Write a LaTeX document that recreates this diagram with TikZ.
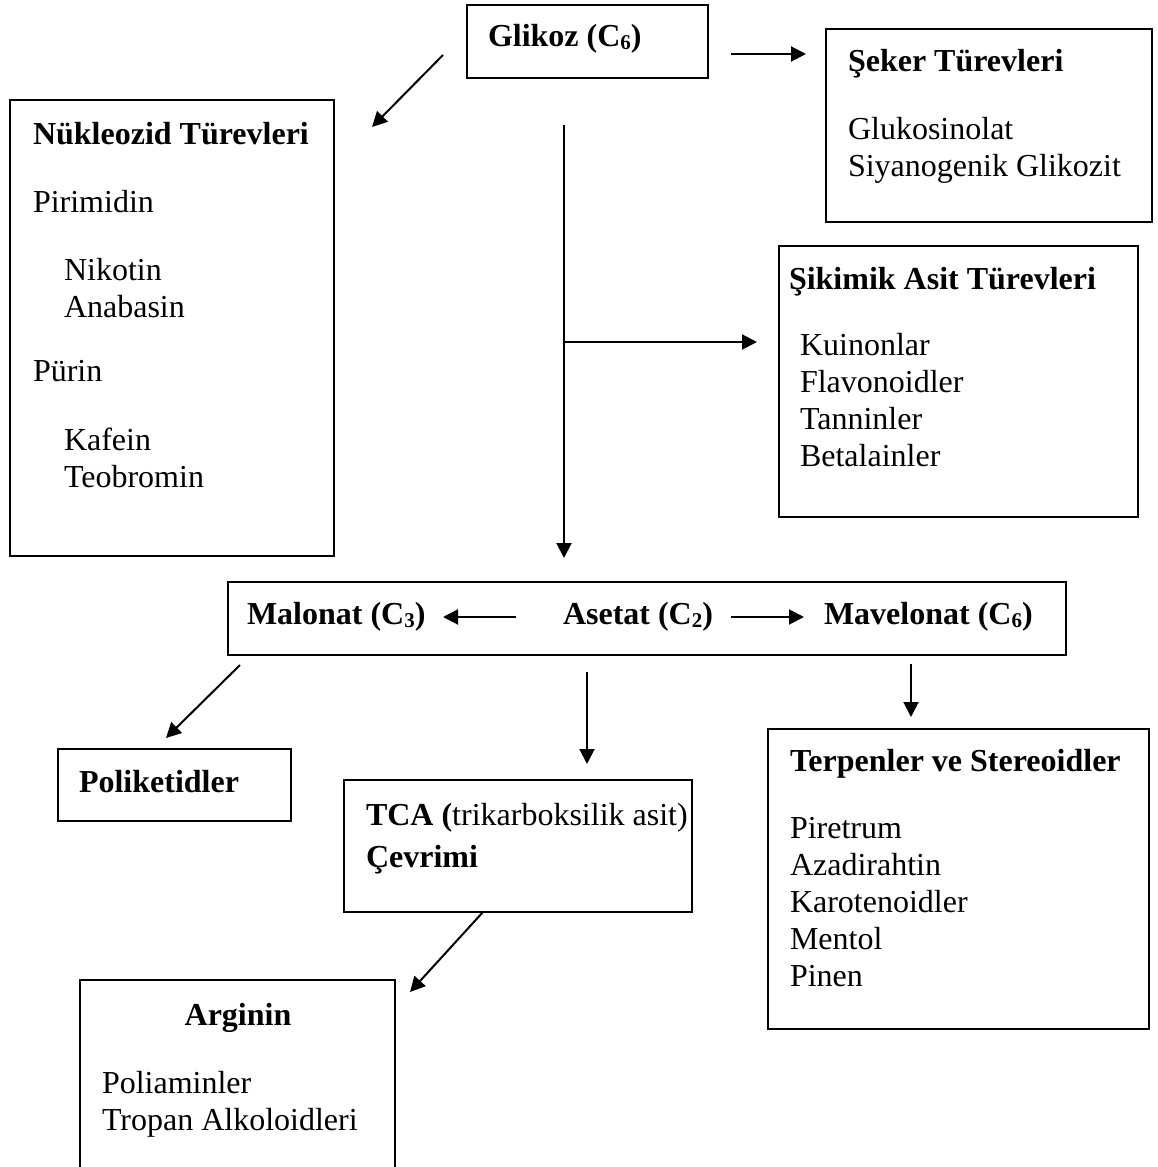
\documentclass[tikz,border=0pt]{standalone}
\usepackage{fontspec}
\setmainfont{Liberation Serif}
\usetikzlibrary{arrows.meta}
\newcommand{\subn}[1]{\raisebox{-3.5pt}{\fontsize{21}{21}\selectfont #1}}
\begin{document}
\begin{tikzpicture}[x=1pt,y=-1pt,
  box/.style={draw,line width=1.8pt,inner sep=0pt,outer sep=0pt,anchor=north west},
  txt/.style={inner sep=0pt,outer sep=0pt,anchor=base west,font=\fontsize{32}{37}\selectfont},
  hd/.style={txt,font=\fontsize{32}{37}\selectfont\bfseries},
  arr/.style={line width=2pt,-{Triangle[length=15pt,width=15pt]}}]
\useasboundingbox (0,0) rectangle (1157,1167);
% boxes
\node[box,minimum width=241pt,minimum height=73pt] (bglik) at (467,5) {};
\node[box,minimum width=326pt,minimum height=193pt] (bseker) at (826,29) {};
\node[box,minimum width=324pt,minimum height=456pt] (bnuk) at (10,100) {};
\node[box,minimum width=359pt,minimum height=271pt] (bsik) at (779,246) {};
\node[box,minimum width=838pt,minimum height=73pt] (basetat) at (228,582) {};
\node[box,minimum width=233pt,minimum height=72pt] (bpol) at (58,749) {};
\node[box,minimum width=348pt,minimum height=132pt] (btca) at (344,780) {};
\node[box,minimum width=381pt,minimum height=300pt] (bterp) at (768,729) {};
\node[box,minimum width=315pt,minimum height=220pt] (barg) at (80,980) {};
% texts
\node[hd] (tglik) at (488,46) {Glikoz (C\subn{6})};
\node[hd] (tseker) at (848,71) {Şeker Türevleri};
\node[txt] (t1) at (848,139) {Glukosinolat};
\node[txt] (t2) at (848,176) {Siyanogenik Glikozit};
\node[hd] (tnuk) at (33,144) {Nükleozid Türevleri};
\node[txt] (t3) at (33,212) {Pirimidin};
\node[txt] (t4) at (64,280) {Nikotin};
\node[txt] (t5) at (64,317) {Anabasin};
\node[txt] (t6) at (33,381) {Pürin};
\node[txt] (t7) at (64,450) {Kafein};
\node[txt] (t8) at (64,487) {Teobromin};
\node[hd] (tsik) at (789,289) {Şikimik Asit Türevleri};
\node[txt] (t9) at (800,355) {Kuinonlar};
\node[txt] (t10) at (800,392) {Flavonoidler};
\node[txt] (t11) at (800,429) {Tanninler};
\node[txt] (t12) at (800,466) {Betalainler};
\node[hd] (tmal) at (247,624) {Malonat (C\subn{3})};
\node[hd] (tase) at (563,624) {Asetat (C\subn{2})};
\node[hd] (tmav) at (824,624) {Mavelonat (C\subn{6})};
\node[hd] (tpol) at (79,792) {Poliketidler};
\node[txt] (ttca) at (366,825) {\textbf{TCA (}trikarboksilik asit)};
\node[hd] (tcev) at (366,867) {Çevrimi};
\node[hd] (tterp) at (790,771) {Terpenler ve Stereoidler};
\node[txt] (t13) at (790,838) {Piretrum};
\node[txt] (t14) at (790,875) {Azadirahtin};
\node[txt] (t15) at (790,912) {Karotenoidler};
\node[txt] (t16) at (790,949) {Mentol};
\node[txt] (t17) at (790,986) {Pinen};
\node[hd,anchor=base] (targ) at (238,1025) {Arginin};
\node[txt] (t18) at (102,1093) {Poliaminler};
\node[txt] (t19) at (102,1130) {Tropan Alkoloidleri};
% arrow endpoints
\coordinate (a1s) at (443,55); \coordinate (a1e) at (372,127);
\coordinate (a2s) at (731,54); \coordinate (a2e) at (806,54);
\coordinate (a3s) at (564,125); \coordinate (a3e) at (564,558);
\coordinate (a4s) at (564,342); \coordinate (a4e) at (757,342);
\coordinate (a5s) at (516,617); \coordinate (a5e) at (443,617);
\coordinate (a6s) at (731,617); \coordinate (a6e) at (804,617);
\coordinate (a7s) at (240,665); \coordinate (a7e) at (166,738);
\coordinate (a8s) at (587,672); \coordinate (a8e) at (587,764);
\coordinate (a9s) at (911,664); \coordinate (a9e) at (911,717);
\coordinate (a10s) at (483,912); \coordinate (a10e) at (410,992);
\draw[arr] (a1s) -- (a1e);
\draw[arr] (a2s) -- (a2e);
\draw[arr] (a3s) -- (a3e);
\draw[arr] (a4s) -- (a4e);
\draw[arr] (a5s) -- (a5e);
\draw[arr] (a6s) -- (a6e);
\draw[arr] (a7s) -- (a7e);
\draw[arr] (a8s) -- (a8e);
\draw[arr] (a9s) -- (a9e);
\draw[arr] (a10s) -- (a10e);
\end{tikzpicture}
\end{document}
